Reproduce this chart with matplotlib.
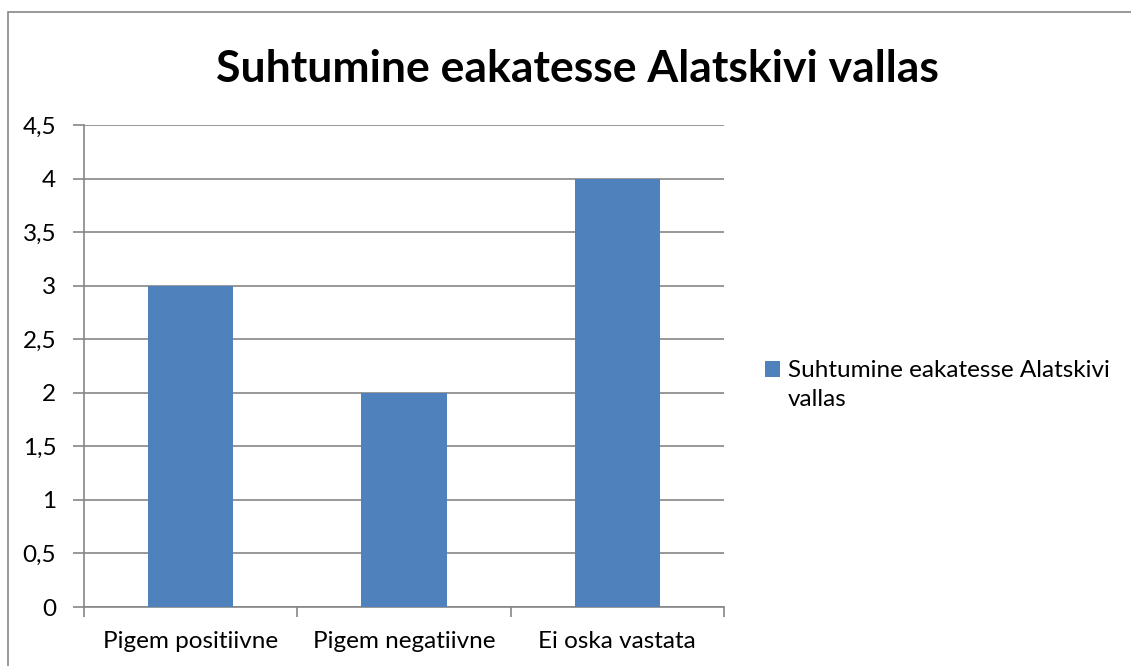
import matplotlib.pyplot as plt
import matplotlib.patches as patches
from matplotlib.ticker import FixedLocator, FuncFormatter

categories = ["Pigem positiivne", "Pigem negatiivne", "Ei oska vastata"]
values = [3, 2, 4]
series_name = "Suhtumine eakatesse Alatskivi\nvallas"
title = "Suhtumine eakatesse Alatskivi vallas"
y_ticks = [0, 0.5, 1, 1.5, 2, 2.5, 3, 3.5, 4, 4.5]

bar_color = "#4F81BD"
line_color = "#868686"

plt.rcParams['font.family'] = ['Lato', 'DejaVu Sans']

W, H = 1131, 666
fig = plt.figure(figsize=(W / 100, H / 100), dpi=100)

# chart-area border (only top and left edges visible in the crop)
fig.patches.append(patches.Rectangle((8 / W, -0.1), 1.2, (H - 12) / H + 0.1,
                                     transform=fig.transFigure, fill=False,
                                     edgecolor=line_color, linewidth=1.2))

ax = fig.add_axes([84 / W, (H - 607) / H, 640 / W, (607 - 125) / H])

x = list(range(len(categories)))
bars = ax.bar(x, values, width=0.4, color=bar_color, label=series_name, zorder=3)

ax.set_xlim(-0.5, len(categories) - 0.5)
ax.set_ylim(0, 4.5)

ax.set_yticks(y_ticks)
ax.yaxis.set_major_formatter(FuncFormatter(lambda v, p: f"{v:g}".replace(".", ",")))
ax.yaxis.grid(True, color=line_color, linewidth=1.2, zorder=0)
ax.tick_params(axis='y', length=8, width=1.2, color=line_color, pad=12,
               labelsize=17.5)

ax.set_xticks(x)
ax.set_xticklabels(categories)
ax.tick_params(axis='x', which='major', length=0, pad=17, labelsize=17.5)
ax.xaxis.set_minor_locator(FixedLocator([i - 0.5 for i in range(len(categories) + 1)]))
ax.tick_params(axis='x', which='minor', length=7, width=1.2, color=line_color,
               direction='out')

for side in ['top', 'right']:
    ax.spines[side].set_visible(False)
for side in ['left', 'bottom']:
    ax.spines[side].set_color(line_color)
    ax.spines[side].set_linewidth(1.2)

fig.text(577 / W, 1 - 69 / H, title, ha='center', va='center',
         fontsize=32, fontweight='bold')

leg = ax.legend(loc='upper left', bbox_to_anchor=(765 / W, 1 - 360 / H),
                bbox_transform=fig.transFigure, frameon=False, fontsize=17.5,
                handlelength=0.6, handleheight=0.6, handletextpad=0.35,
                borderpad=0, borderaxespad=0)
for t in leg.get_texts():
    t.set_linespacing(1.5)
# Excel puts the marker next to the first line of a wrapped entry
for p in leg.get_patches():
    p.set_y(p.get_y() + 11.5)

fig.savefig("out.png", dpi=100)
